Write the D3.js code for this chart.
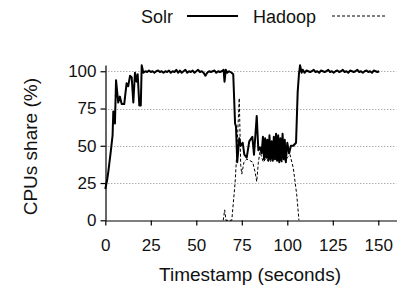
<!DOCTYPE html>
<html>
<head>
<meta charset="utf-8">
<script src="https://cdn.jsdelivr.net/npm/d3@7"></script>
<style>
  html, body { margin: 0; padding: 0; background: #fff; }
  svg { display: block; font-family: "Liberation Sans", Arial, Helvetica, sans-serif; }
</style>
</head>
<body>
<svg id="chart" width="409" height="288"></svg>
<script>
// ---- data ----
const seriesNames = ["Solr", "Hadoop"];
const xTicks = [0, 25, 50, 75, 100, 125, 150];
const yTicks = [0, 25, 50, 75, 100];
const xLabel = "Timestamp (seconds)";
const yLabel = "CPUs share (%)";

const solrT = [0,1,1.7,3,4,4.4,5.3,5.9,7.1,8,9,10.4,11.7,12.6,13.6,14.5,15.4,16.3,17.2,17.8,18.7,19.5,20,20.9,22,23,24,25,26,27,28,29,30,31,32,33,34,35,36,37,38,39,40,41,42,43,44,45,46,47,48,49,50,51,52,53,54,55,56,57,58,59,60,61,62,63,64,65,65.5,66.2,67,68,69.4,70.3,71.3,71.8,72.5,73.6,74.4,75.5,76.4,77.7,79.1,80.8,81.7,83.2,84.1,85,85.9,86.6,87.2,87.8,88.4,89,89.6,90.2,90.8,91.4,92,92.6,93.2,93.8,94.4,95,95.6,96.2,96.8,97.4,98,98.6,99.2,100,101,102,103.3,104.8,105.7,106.4,107,107.9,108.5,109.5,110.5,111.5,112.5,113.5,114.5,115.5,116.5,117.5,118.5,119.5,120.5,121.5,122.5,123.5,124.5,125.5,126.5,127.5,128.5,129.5,130.5,131.5,132.5,133.5,134.5,135.5,136.5,137.5,138.5,139.5,140.5,141.5,142.5,143.5,144.5,145.5,146.5,147.5,148.5,149.5,150.5,151.5,152.5,153.5,154.5,155.5,156.5,157.5,158.5,159.5];
const solrV = [21,27,33,46,57,73,65,94,79,83,78,78,92,90,97,96,79,99,93,98,77,77,104,99,100,99.5,100.5,99.5,100,99,100,100.5,99.5,100,99,100,99.5,100.5,99,100,99.5,101,99,100.5,99,100,101,99,100,99.5,100.5,99,100,101,99.5,100,99,97,99,100,99.5,100,100.5,99,100,99.5,100,101,93,101,99,100,99,98,65,63,39,55,50,52,44,42,53,56,44,70,47,49,45,56,41,55,42,54,40,57,41,53,40,56,41,58,40,57,39,55,40,58,41,54,39,52,45,50,50,52,86,98,104,99,101,99,100.5,100,99.5,100,101,99.5,100,99,100.5,100,99.5,100,101,99.5,100,99,100,100.5,99.5,100,101,99.5,100,99,100.5,100,99.5,100,101,99.5,100,99,100,100.5,99.5,100,99,100.5,100,99.5,100];

const hadoopT = [64.8,65.6,66.3,69.5,71.3,72.2,73.6,74.4,75,76.2,77.7,79.5,81,82.2,83.2,84.1,85,86.8,88,89,90,91,92,93,94,95,96,97,98,99,100,101.5,103.3,105.2,106.4];
const hadoopV = [0,7,0,0,25,44,82,37,31,39,41,40,39,33,26,39,46,39,41,40,42,39,41,40,42,40,41,39,41,40,42,44,35,17,0];

// ---- chart ----
const svg = d3.select("#chart");
const x = d3.scaleLinear().domain([0, 160]).range([105.3, 396.5]);
const y = d3.scaleLinear().domain([0, 104.2]).range([220.3, 65]);

// gridlines
svg.append("g").selectAll("line")
  .data(yTicks.filter(d => d > 0))
  .join("line")
  .attr("x1", x(0)).attr("x2", x(160))
  .attr("y1", d => Math.round(y(d)) + 0.5).attr("y2", d => Math.round(y(d)) + 0.5)
  .attr("stroke", "#888").attr("stroke-width", 1)
  .attr("stroke-dasharray", "1,2");

// lines
const solrData = solrT.map((t, i) => [t, solrV[i]]);
const hadoopData = hadoopT.map((t, i) => [t, hadoopV[i]]);
const line = d3.line().x(d => x(d[0])).y(d => y(d[1]));

svg.append("path").datum(hadoopData)
  .attr("d", line).attr("fill", "none")
  .attr("stroke", "#000").attr("stroke-width", 1)
  .attr("stroke-dasharray", "3,2");

svg.append("path").datum(solrData)
  .attr("d", line).attr("fill", "none")
  .attr("stroke", "#000").attr("stroke-width", 2)
  .attr("stroke-linejoin", "round");

// axes
const xAxis = d3.axisBottom(x).tickValues(xTicks).tickSize(5).tickPadding(13).tickSizeOuter(0);
const yAxis = d3.axisLeft(y).tickValues(yTicks).tickSize(5).tickPadding(4).tickSizeOuter(0);

const gx = svg.append("g").attr("transform", `translate(0,${Math.round(y(0)) + 0.5})`).call(xAxis);
const gy = svg.append("g").attr("transform", `translate(${Math.round(x(0)) + 0.5},0)`).call(yAxis);
[gx, gy].forEach(g => {
  g.selectAll("text").attr("font-size", 17).attr("fill", "#111").attr("font-family", "Liberation Sans, Arial, sans-serif");
  g.selectAll("line, path").attr("stroke", "#000").attr("stroke-width", 1.2);
});

// axis titles
svg.append("text").attr("x", 250).attr("y", 281)
  .attr("text-anchor", "middle").attr("font-size", 19).attr("fill", "#111")
  .text(xLabel);
svg.append("text")
  .attr("transform", `translate(37,${(y(0)+y(104.2))/2 + 4}) rotate(-90)`)
  .attr("text-anchor", "middle").attr("font-size", 19).attr("fill", "#111")
  .text(yLabel);

// legend
const lg = svg.append("g");
lg.append("text").attr("x", 141).attr("y", 23).attr("font-size", 18).attr("fill", "#111").text(seriesNames[0]);
lg.append("line").attr("x1", 187).attr("x2", 238).attr("y1", 16).attr("y2", 16)
  .attr("stroke", "#000").attr("stroke-width", 2);
lg.append("text").attr("x", 253).attr("y", 23).attr("font-size", 18).attr("fill", "#111").text(seriesNames[1]);
lg.append("line").attr("x1", 332).attr("x2", 385).attr("y1", 16).attr("y2", 16)
  .attr("stroke", "#000").attr("stroke-width", 1).attr("stroke-dasharray", "3,2");
</script>
</body>
</html>
